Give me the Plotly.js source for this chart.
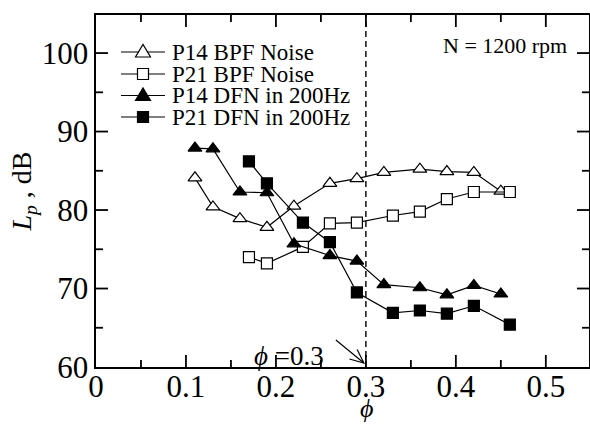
<!DOCTYPE html>
<html>
<head>
<meta charset="utf-8">
<script src="https://cdn.plot.ly/plotly-3.0.1.min.js"></script>
<style>html,body{margin:0;padding:0;background:#fff;}#chart{width:590px;height:426px;}</style>
</head>
<body>
<div id="chart"></div>
<script>
// ---- data ----
const seriesNames = ["P14 BPF Noise", "P21 BPF Noise", "P14 DFN in 200Hz", "P21 DFN in 200Hz"];

const p14BpfX = [0.11, 0.13, 0.16, 0.19, 0.22, 0.26, 0.29, 0.32, 0.36, 0.39, 0.42, 0.45];
const p14BpfY = [84.1, 80.4, 78.9, 77.8, 80.5, 83.4, 84.0, 84.8, 85.2, 84.9, 84.8, 82.4];

const p21BpfX = [0.17, 0.19, 0.23, 0.26, 0.29, 0.33, 0.36, 0.39, 0.42, 0.46];
const p21BpfY = [74.0, 73.2, 75.3, 78.3, 78.4, 79.3, 79.8, 81.4, 82.3, 82.3];

const p14DfnX = [0.11, 0.13, 0.16, 0.19, 0.22, 0.26, 0.29, 0.32, 0.36, 0.39, 0.42, 0.45];
const p14DfnY = [87.9, 87.8, 82.3, 82.2, 75.7, 74.2, 73.5, 70.5, 70.1, 69.2, 70.4, 69.3];

const p21DfnX = [0.17, 0.19, 0.23, 0.26, 0.29, 0.33, 0.36, 0.39, 0.42, 0.46];
const p21DfnY = [86.2, 83.4, 78.4, 75.9, 69.5, 66.9, 67.2, 66.8, 67.8, 65.4];

const xTickVals = [0, 0.1, 0.2, 0.3, 0.4, 0.5];
const xTickText = ["0", "0.1", "0.2", "0.3", "0.4", "0.5"];
const xMinorVals = [0.05, 0.15, 0.25, 0.35, 0.45];
const yTickVals = [60, 70, 80, 90, 100];
const yTickText = ["60", "70", "80", "90", "100"];
const yMinorVals = [65, 75, 85, 95];
const markerSymbols = ["triangle-up", "square", "triangle-up", "square"];
const markerFills = ["#ffffff", "#ffffff", "#000000", "#000000"];
const criticalPhi = 0.3;

// ---- layout constants ----
const W = 590, H = 426;
const M = {l: 96, r: 1, t: 15, b: 59};
const PW = W - M.l - M.r, PH = H - M.t - M.b;
const XR = [0, 0.548], YR = [60, 104.85];
const FONT = "'Liberation Serif', 'Times New Roman', serif";
const MAJOR_LEN = 12, MINOR_LEN = 7, TICK_W = 1.8;

const xs = [p14BpfX, p21BpfX, p14DfnX, p21DfnX];
const ys = [p14BpfY, p21BpfY, p14DfnY, p21DfnY];

const traces = xs.map((x, i) => ({
  x: x, y: ys[i], name: seriesNames[i], type: 'scatter', mode: 'lines+markers',
  line: {color: '#000', width: 1.2},
  marker: {symbol: markerSymbols[i], size: markerSymbols[i] === 'square' ? 11 : 12,
           color: markerFills[i], line: {color: '#000', width: 1.2}},
  showlegend: false, cliponaxis: false
}));

// helpers: pixel -> paper
function px(xp) { return (xp - M.l) / PW; }
function py(yp) { return (H - M.b - yp) / PH; }
const shapes = [
  {type: 'line', xref: 'x', yref: 'paper', x0: criticalPhi, x1: criticalPhi, y0: 0, y1: 1,
   line: {color: '#000', width: 1.4, dash: '6px,4px'}}
];
const annotations = [];

// inward ticks on all four sides (positioned through the axes' own scales)
function addXTicks(vals, len) {
  vals.forEach(v => {
    shapes.push({type: 'line', layer: 'above', xref: 'x', yref: 'paper', x0: v, x1: v, y0: 0, y1: len / PH,
                 line: {color: '#000', width: TICK_W}});
    shapes.push({type: 'line', layer: 'above', xref: 'x', yref: 'paper', x0: v, x1: v, y0: 1, y1: 1 - len / PH,
                 line: {color: '#000', width: TICK_W}});
  });
}
function addYTicks(vals, len) {
  vals.forEach(v => {
    shapes.push({type: 'line', layer: 'above', xref: 'paper', yref: 'y', x0: 0, x1: len / PW, y0: v, y1: v,
                 line: {color: '#000', width: TICK_W}});
    shapes.push({type: 'line', layer: 'above', xref: 'paper', yref: 'y', x0: 1, x1: 1 - len / PW, y0: v, y1: v,
                 line: {color: '#000', width: TICK_W}});
  });
}
addXTicks(xTickVals.filter(v => v > XR[0]), MAJOR_LEN);
addXTicks(xMinorVals, MINOR_LEN);
addYTicks(yTickVals.filter(v => v > YR[0]), MAJOR_LEN);
addYTicks(yMinorVals, MINOR_LEN);

// custom legend
const legRows = [52, 74, 95.5, 117];
const legX0 = 121, legX1 = 165, legMX = 143, legTX = 170;
legRows.forEach((ry, i) => {
  shapes.push({type: 'line', xref: 'paper', yref: 'paper', x0: px(legX0), x1: px(legX1), y0: py(ry), y1: py(ry),
               line: {color: '#000', width: 1.2}});
  if (markerSymbols[i] === 'square') {
    const s = 5.5;
    shapes.push({type: 'rect', xref: 'paper', yref: 'paper', x0: px(legMX - s), x1: px(legMX + s),
                 y0: py(ry + s), y1: py(ry - s), fillcolor: markerFills[i], line: {color: '#000', width: 1.2}});
  } else {
    const a = 7.5, b = 5, c = 7.5;
    const path = 'M' + px(legMX - a) + ',' + py(ry + b) + ' L' + px(legMX + a) + ',' + py(ry + b) +
                 ' L' + px(legMX) + ',' + py(ry - c) + ' Z';
    shapes.push({type: 'path', xref: 'paper', yref: 'paper', path: path,
                 fillcolor: markerFills[i], line: {color: '#000', width: 1.2}});
  }
  annotations.push({xref: 'paper', yref: 'paper', x: px(legTX), y: py(ry), xanchor: 'left', yanchor: 'middle',
                    text: seriesNames[i], showarrow: false, font: {family: FONT, size: 23, color: '#000'}});
});

annotations.push({xref: 'paper', yref: 'paper', x: px(569), y: py(46), xanchor: 'right', yanchor: 'middle',
                  text: 'N = 1200 rpm', showarrow: false, font: {family: FONT, size: 22, color: '#000'}});
annotations.push({xref: 'paper', yref: 'paper', x: px(289), y: py(356), xanchor: 'center', yanchor: 'middle',
                  text: '<i>ϕ</i> =0.3', showarrow: false, font: {family: FONT, size: 27, color: '#000'}});
// x-axis title, placed under 0.3 like the reference
annotations.push({xref: 'paper', yref: 'paper', x: px(366), y: py(408), xanchor: 'center', yanchor: 'middle',
                  text: '<i>ϕ</i>', showarrow: false, font: {family: FONT, size: 26, color: '#000'}});

// arrow pointing at phi = 0.3 on the x axis (drawn as shapes)
const tipX = M.l + (criticalPhi - XR[0]) / (XR[1] - XR[0]) * PW - 2;
const tipY = H - M.b - 4;
const tailX = tipX - 28, tailY = tipY - 23;
const dl = Math.hypot(tipX - tailX, tipY - tailY);
const ux = (tailX - tipX) / dl, uy = (tailY - tipY) / dl;
const ang = 24 * Math.PI / 180, armLen = 15;
function rot(x, y, a) { return [x * Math.cos(a) - y * Math.sin(a), x * Math.sin(a) + y * Math.cos(a)]; }
const arm1 = rot(ux, uy, ang), arm2 = rot(ux, uy, -ang);
shapes.push({type: 'line', xref: 'paper', yref: 'paper', x0: px(tailX), y0: py(tailY), x1: px(tipX), y1: py(tipY),
             line: {color: '#000', width: 1.2}});
shapes.push({type: 'path', xref: 'paper', yref: 'paper',
             path: 'M' + px(tipX + arm1[0] * armLen) + ',' + py(tipY + arm1[1] * armLen) +
                   ' L' + px(tipX) + ',' + py(tipY) +
                   ' L' + px(tipX + arm2[0] * armLen) + ',' + py(tipY + arm2[1] * armLen),
             line: {color: '#000', width: 1.2}});

const axisCommon = {
  showgrid: false, zeroline: false, showline: true, linecolor: '#000', linewidth: 1.6,
  mirror: true, ticks: '', tickfont: {family: FONT, size: 31, color: '#000'}
};

const layout = {
  width: W, height: H, margin: M, paper_bgcolor: '#fff', plot_bgcolor: '#fff',
  showlegend: false,
  xaxis: Object.assign({}, axisCommon, {
    range: XR, tickmode: 'array', tickvals: xTickVals, ticktext: xTickText, ticklabelstandoff: -9
  }),
  yaxis: Object.assign({}, axisCommon, {
    range: YR, tickmode: 'array', tickvals: yTickVals, ticktext: yTickText,
    title: {text: '<i>L</i><sub><i>p</i></sub> , dB', font: {family: FONT, size: 28, color: '#000'}, standoff: 2}
  }),
  shapes: shapes,
  annotations: annotations
};

Plotly.newPlot('chart', traces, layout, {staticPlot: true, displayModeBar: false});
</script>
</body>
</html>
